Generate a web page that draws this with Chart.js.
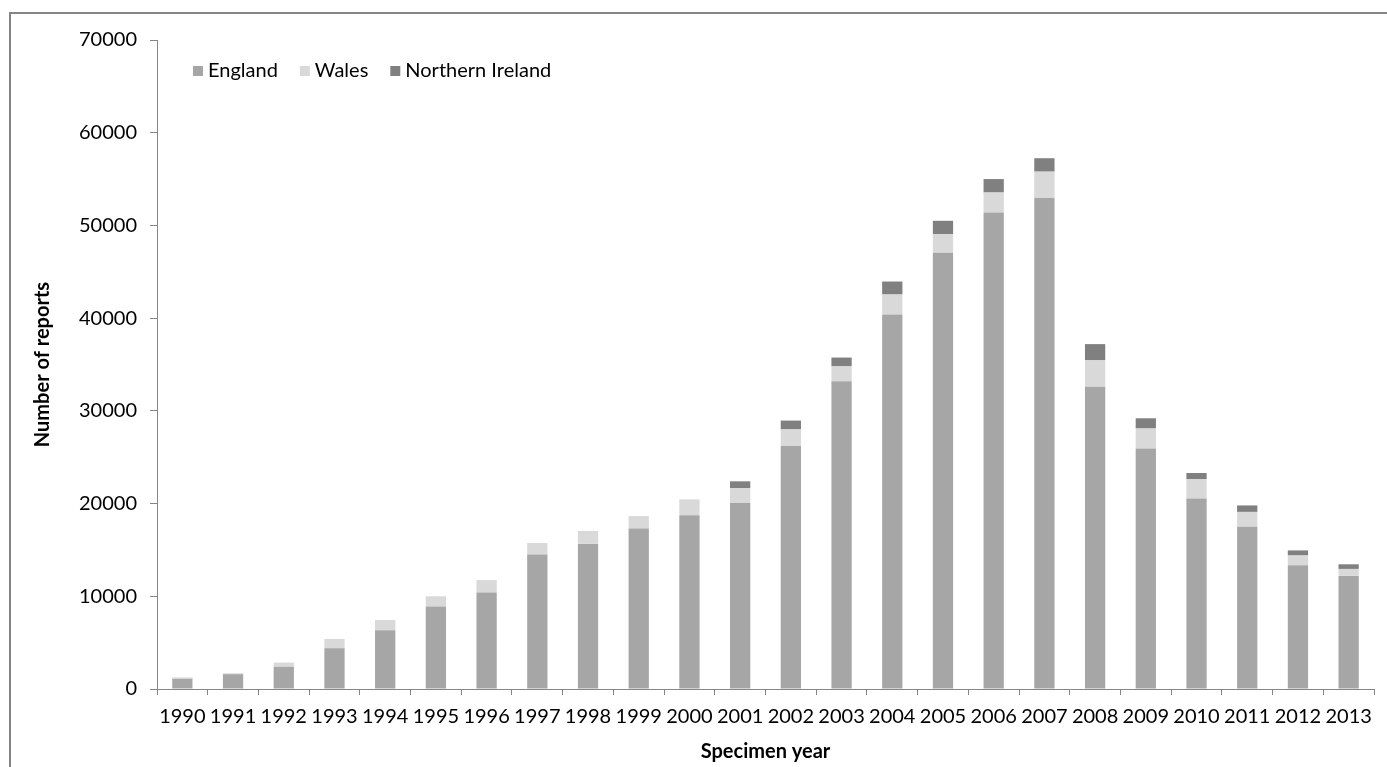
<!DOCTYPE html>
<html>
<head>
<meta charset="utf-8">
<script src="https://cdn.jsdelivr.net/npm/chart.js@4.4.1/dist/chart.umd.min.js"></script>
<style>
    html, body { margin: 0; padding: 0; background: #fff; overflow: hidden; }
    #frame { position: absolute; left: 9px; top: 12px; width: 1400px; height: 800px; border: 2px solid #858585; box-sizing: border-box; }
    #wrap { position: absolute; left: 0; top: 0; width: 1387px; height: 767px; }
</style>
</head>
<body>
<div id="frame"></div>
<div id="wrap"><canvas id="barChart"></canvas></div>
<script>
// Specimen years and report counts per country
const years = ['1990', '1991', '1992', '1993', '1994', '1995', '1996', '1997', '1998', '1999', '2000', '2001',
               '2002', '2003', '2004', '2005', '2006', '2007', '2008', '2009', '2010', '2011', '2012', '2013'];
const england = [1100, 1600, 2400, 4400, 6350, 8900, 10400, 14500, 15650, 17300, 18750, 20050,
                 26200, 33200, 40400, 47050, 51400, 52950, 32600, 25950, 20550, 17500, 13350, 12200];
const wales = [150, 100, 450, 1000, 1100, 1100, 1350, 1250, 1400, 1350, 1700, 1600,
               1800, 1600, 2150, 2000, 2150, 2850, 2850, 2150, 2100, 1600, 1050, 750];
const northernIreland = [0, 0, 0, 0, 0, 0, 0, 0, 0, 0, 0, 750,
                         950, 950, 1400, 1450, 1450, 1450, 1750, 1100, 650, 700, 550, 500];

const axisColor = '#868686';
const fontFamily = 'Lato, "Open Sans", sans-serif';

// legend drawn inside the plot area, top left (like the Excel original)
const insideLegend = {
    id: 'insideLegend',
    afterDraw(chart) {
        const ctx = chart.ctx;
        const area = chart.chartArea;
        let x = area.left + 36;
        const y = area.top + 31;
        ctx.save();
        ctx.font = '20px ' + fontFamily;
        ctx.textBaseline = 'middle';
        chart.data.datasets.forEach(function(ds) {
            ctx.fillStyle = ds.backgroundColor;
            ctx.fillRect(x, y - 5, 10, 10);
            ctx.fillStyle = '#000';
            ctx.fillText(ds.label, x + 15, y);
            x += 15 + ctx.measureText(ds.label).width + 22;
        });
        ctx.restore();
    }
};

new Chart(document.getElementById('barChart').getContext('2d'), {
    type: 'bar',
    data: {
        labels: years,
        datasets: [
            { label: 'England', data: england, backgroundColor: '#a6a6a6' },
            { label: 'Wales', data: wales, backgroundColor: '#d9d9d9' },
            { label: 'Northern Ireland', data: northernIreland, backgroundColor: '#808080' }
        ]
    },
    options: {
        responsive: true,
        maintainAspectRatio: false,
        animation: false,
        categoryPercentage: 0.8,
        barPercentage: 0.5,
        layout: {
            padding: { top: 40, right: 13, left: 0, bottom: 0 }
        },
        scales: {
            x: {
                stacked: true,
                afterFit: function(scale) { scale.height = 78; },
                grid: {
                    display: true,
                    drawOnChartArea: false,
                    offset: true,
                    tickLength: 6,
                    color: axisColor
                },
                border: { display: true, color: axisColor, width: 1 },
                ticks: {
                    color: '#000',
                    padding: 10,
                    maxRotation: 0,
                    autoSkip: false,
                    font: { family: fontFamily, size: 20 }
                },
                title: {
                    display: true,
                    text: 'Specimen year',
                    color: '#000',
                    padding: { top: 0, bottom: 3 },
                    font: { family: fontFamily, size: 20, weight: 'bold' }
                }
            },
            y: {
                stacked: true,
                min: 0,
                max: 70000,
                afterFit: function(scale) { scale.width = 157; },
                grid: {
                    display: true,
                    drawOnChartArea: false,
                    tickLength: 7,
                    color: axisColor
                },
                border: { display: true, color: axisColor, width: 1 },
                ticks: {
                    stepSize: 10000,
                    color: '#000',
                    padding: 13,
                    font: { family: fontFamily, size: 20 },
                    callback: function(value) { return String(value); }
                },
                title: {
                    display: true,
                    text: 'Number of reports',
                    color: '#000',
                    padding: { top: 31, bottom: 0 },
                    font: { family: fontFamily, size: 20, weight: 'bold' }
                }
            }
        },
        plugins: {
            legend: { display: false },
            tooltip: { enabled: false }
        }
    },
    plugins: [insideLegend]
});
</script>
</body>
</html>
